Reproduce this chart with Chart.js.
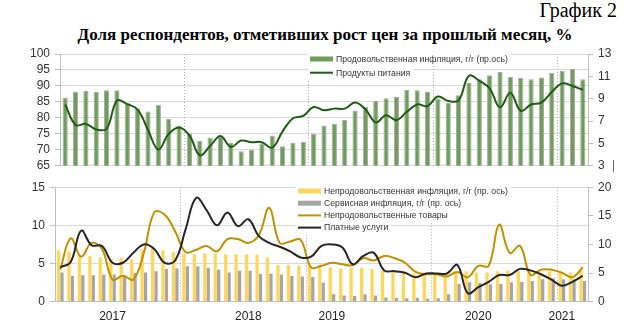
<!DOCTYPE html>
<html>
<head>
<meta charset="utf-8">
<script src="https://cdn.jsdelivr.net/npm/chart.js@4.4.0/dist/chart.umd.min.js"></script>
<style>
  body { margin: 0; width: 624px; height: 326px; overflow: hidden; position: relative; background: #fff; font-family: "Liberation Serif", "Times New Roman", serif; color: #000; }
  #chartNo { position: absolute; right: 7px; top: -1px; font-size: 20px; }
  #chartTitle { position: absolute; left: 0; width: 650px; top: 25px; text-align: center; font-size: 17px; font-weight: bold; }
  canvas { position: absolute; left: 0; }
  #topCanvas { top: 40px; }
  #bottomCanvas { top: 175px; }
</style>
</head>
<body>
<div id="chartNo">График 2</div>
<div id="chartTitle">Доля респондентов, отметивших рост цен за прошлый месяц, %</div>
<canvas id="topCanvas" width="624" height="138"></canvas>
<canvas id="bottomCanvas" width="624" height="151"></canvas>
<script>
// months, Jan 2017 - Mar 2021
const months = [
  '01.17', '02.17', '03.17', '04.17', '05.17', '06.17', '07.17', '08.17', '09.17', '10.17', '11.17', '12.17',
  '01.18', '02.18', '03.18', '04.18', '05.18', '06.18', '07.18', '08.18', '09.18', '10.18', '11.18', '12.18',
  '01.19', '02.19', '03.19', '04.19', '05.19', '06.19', '07.19', '08.19', '09.19', '10.19', '11.19', '12.19',
  '01.20', '02.20', '03.20', '04.20', '05.20', '06.20', '07.20', '08.20', '09.20', '10.20', '11.20', '12.20',
  '01.21', '02.21', '03.21'
];

// year captions under the lower panel
const yearTicks = { '06.17': '2017', '07.18': '2018', '03.19': '2019', '05.20': '2020', '01.21': '2021' };

// upper panel
const foodInflation = [
  9.1, 9.6, 9.7, 9.6, 9.75, 9.75, 8.6, 8.1, 7.85, 8.45, 7.2, 6.55,
  5.9, 5.25, 5.5, 5.6, 5.05, 4.3, 4.45, 5.0, 5.7, 4.75, 5.05, 5.15,
  5.85, 6.6, 6.75, 7.1, 7.95, 8.25, 8.8, 9.05, 9.15, 9.8, 9.75, 9.6,
  9.0, 8.65, 9.3, 10.4, 10.75, 11.1, 11.4, 10.95, 10.85, 10.75, 10.9, 11.3,
  11.5, 11.65, 10.75
];
const foodShare = [
  84.2, 77.8, 78.1, 76.4, 76.6, 85.4, 84.3, 82.6, 76.2, 70.1, 75.0, 77.0,
  74.5, 68.3, 71.2, 74.3, 70.9, 72.9, 72.4, 72.4, 70.7, 75.8, 79.9, 80.6,
  83.4, 82.4, 82.9, 82.9, 84.8, 82.7, 78.6, 80.8, 79.3, 81.9, 84.2, 83.7,
  86.7, 85.3, 85.5, 93.2, 91.6, 89.2, 83.3, 87.9, 82.2, 84.2, 84.8, 88.1,
  90.8, 90.0, 88.8
];

// lower panel
const nonFoodInflation = [
  9.0, 8.8, 8.1, 8.0, 7.7, 7.5, 7.7, 7.4, 9.1, 9.4, 9.0, 8.7,
  8.4, 8.3, 8.4, 8.4, 8.3, 8.3, 8.3, 8.2, 7.7, 6.4, 6.4, 6.3,
  6.4, 6.2, 6.0, 5.8, 5.9, 5.9, 5.7, 5.4, 5.3, 5.1, 4.9, 4.9,
  5.0, 5.0, 5.3, 5.3, 5.1, 5.1, 5.3, 5.4, 5.3, 5.3, 5.3, 5.3,
  5.1, 5.1, 5.5
];
const serviceInflation = [
  5.1, 4.5, 4.6, 4.6, 4.7, 4.75, 4.6, 5.0, 5.1, 5.3, 5.7, 5.8,
  6.2, 6.2, 5.95, 5.6, 5.1, 5.4, 5.4, 4.9, 4.9, 4.75, 4.5, 4.4,
  4.3, 3.3, 1.3, 1.1, 1.0, 1.3, 1.1, 0.75, 0.7, 0.6, 0.7, 0.5,
  0.6, 1.3, 3.1, 3.4, 3.3, 3.0, 3.1, 3.4, 3.5, 3.6, 3.9, 4.1,
  3.9, 3.9, 3.6
];
const nonFoodShare = [
  4.2, 8.3, 5.9, 7.7, 6.9, 2.9, 3.4, 2.9, 6.4, 11.7, 11.4, 9.2,
  6.5, 6.8, 7.3, 6.6, 8.2, 8.2, 7.7, 8.7, 12.3, 7.7, 7.9, 8.1,
  4.5, 4.7, 5.1, 4.9, 4.8, 5.7, 5.4, 6.0, 5.7, 5.1, 3.9, 3.6,
  3.6, 3.3, 3.9, 3.2, 4.7, 4.7, 10.1, 6.4, 7.3, 3.5, 4.2, 4.2,
  3.8, 3.2, 4.5
];
const servicesShare = [
  4.5, 5.2, 9.3, 7.4, 7.3, 5.1, 5.1, 6.4, 7.5, 6.9, 5.1, 5.4,
  9.5, 13.6, 12.0, 10.0, 11.7, 9.9, 10.8, 8.6, 7.7, 7.2, 6.6, 5.8,
  5.9, 7.3, 7.5, 7.1, 4.9, 6.0, 6.4, 4.1, 4.0, 3.8, 3.2, 3.7,
  3.7, 3.7, 4.8, 1.1, 1.9, 2.6, 3.5, 3.5, 4.3, 4.1, 3.6, 2.9,
  2.1, 2.6, 3.4
];

const tickFont = { family: '"Liberation Sans", Arial, sans-serif', size: 12 };
const legendFont = '8.7px "Liberation Sans", Arial, sans-serif';
const axisGray = '#bfbfbf';
const gridGray = '#d9d9d9';

// dotted line at each January, between December and January
const yearSeparators = {
  id: 'yearSeparators',
  beforeDatasetsDraw(chart) {
    const { ctx, chartArea, scales: { x } } = chart;
    const labels = chart.data.labels;
    ctx.save();
    ctx.strokeStyle = '#b0b0b0';
    ctx.lineWidth = 1;
    ctx.setLineDash([1, 2]);
    labels.forEach((lbl, i) => {
      if (i === 0 || !lbl.startsWith('01.')) return;
      const px = Math.round((x.getPixelForValue(i - 1) + x.getPixelForValue(i)) / 2) + 0.5;
      ctx.beginPath();
      ctx.moveTo(px, chartArea.top);
      ctx.lineTo(px, chartArea.bottom);
      ctx.stroke();
    });
    ctx.restore();
  }
};

// legend drawn inside the plot area, each entry on its own white patch
const innerLegend = {
  id: 'innerLegend',
  afterDatasetsDraw(chart, args, opts) {
    const { ctx } = chart;
    ctx.save();
    ctx.font = legendFont;
    ctx.textBaseline = 'middle';
    chart.data.datasets.forEach((ds, i) => {
      const y = opts.y + i * opts.step;
      const w = ctx.measureText(ds.label).width;
      ctx.fillStyle = '#fff';
      ctx.fillRect(opts.x - 2, y - opts.step / 2, w + 31, opts.step);
      if (ds.type === 'bar') {
        ctx.fillStyle = ds.backgroundColor;
        ctx.fillRect(opts.x, y - 2.5, 23, 5);
      } else {
        ctx.strokeStyle = ds.borderColor;
        ctx.lineWidth = 2;
        ctx.beginPath();
        ctx.moveTo(opts.x, y);
        ctx.lineTo(opts.x + 23, y);
        ctx.stroke();
      }
      ctx.fillStyle = '#333';
      ctx.fillText(ds.label, opts.x + 26, y + 0.5);
    });
    if (opts.mark) {
      ctx.strokeStyle = '#666';
      ctx.lineWidth = 1;
      ctx.beginPath();
      ctx.moveTo(opts.mark[0], opts.mark[1]);
      ctx.lineTo(opts.mark[0], opts.mark[2]);
      ctx.stroke();
    }
    ctx.restore();
  }
};

function fixWidth(w) {
  return (scale) => { scale.width = w; };
}

function yAxis(position, min, max, step, width, onChart) {
  return {
    position: position,
    min: min,
    max: max,
    afterFit: fixWidth(width),
    ticks: { stepSize: step, autoSkip: false, font: tickFont, color: '#333', padding: 5 },
    grid: { color: gridGray, drawOnChartArea: onChart, tickLength: 5, tickColor: axisGray },
    border: { color: axisGray }
  };
}

// Render upper panel: food
function renderTopChart() {
  const ctx = document.getElementById('topCanvas').getContext('2d');
  new Chart(ctx, {
    data: {
      labels: months,
      datasets: [
        {
          type: 'bar',
          label: 'Продовольственная инфляция, г/г (пр.ось)',
          data: foodInflation,
          yAxisID: 'yRight',
          backgroundColor: '#6e9e58',
          borderColor: '#a9a9a9',
          borderWidth: 1,
          barPercentage: 0.5,
          categoryPercentage: 1,
          order: 2
        },
        {
          type: 'line',
          label: 'Продукты питания',
          data: foodShare,
          yAxisID: 'yLeft',
          borderColor: '#1f5c14',
          borderWidth: 2,
          pointRadius: 0,
          tension: 0.4,
          order: 1
        }
      ]
    },
    options: {
      responsive: false,
      animation: false,
      devicePixelRatio: 1,
      layout: { padding: { top: 14, bottom: 10.7, left: 0, right: 0 } },
      plugins: {
        legend: { display: false },
        tooltip: { enabled: false },
        innerLegend: { x: 310, y: 19, step: 13.7, mark: [613.5, 120, 132] }
      },
      scales: {
        x: { display: false, offset: true },
        yLeft: yAxis('left', 65, 100, 5, 60, true),
        yRight: yAxis('right', 3, 13, 2, 36, false)
      }
    },
    plugins: [yearSeparators, innerLegend]
  });
}

// Render lower panel: non-food goods and services
function renderBottomChart() {
  const ctx = document.getElementById('bottomCanvas').getContext('2d');
  new Chart(ctx, {
    data: {
      labels: months,
      datasets: [
        {
          type: 'bar',
          label: 'Непродовольственная инфляция, г/г (пр. ось)',
          data: nonFoodInflation,
          yAxisID: 'yRight',
          backgroundColor: '#ffd65c',
          barPercentage: 0.95,
          categoryPercentage: 0.66,
          order: 3
        },
        {
          type: 'bar',
          label: 'Сервисная инфляция, г/г (пр. ось)',
          data: serviceInflation,
          yAxisID: 'yRight',
          backgroundColor: '#a6a6a6',
          barPercentage: 0.95,
          categoryPercentage: 0.66,
          order: 3
        },
        {
          type: 'line',
          label: 'Непродовольственные товары',
          data: nonFoodShare,
          yAxisID: 'yLeft',
          borderColor: '#bf9000',
          borderWidth: 2,
          pointRadius: 0,
          tension: 0.4,
          order: 2
        },
        {
          type: 'line',
          label: 'Платные услуги',
          data: servicesShare,
          yAxisID: 'yLeft',
          borderColor: '#262626',
          borderWidth: 2,
          pointRadius: 0,
          tension: 0.4,
          order: 1
        }
      ]
    },
    options: {
      responsive: false,
      animation: false,
      devicePixelRatio: 1,
      layout: { padding: { top: 10, bottom: 0, left: 0, right: 0 } },
      plugins: {
        legend: { display: false },
        tooltip: { enabled: false },
        innerLegend: { x: 298, y: 16, step: 12.2 }
      },
      scales: {
        x: {
          offset: true,
          afterFit: (scale) => { scale.height = 24.3; },
          grid: { display: false, drawTicks: false },
          border: { color: axisGray },
          ticks: {
            autoSkip: false,
            maxRotation: 0,
            padding: 8,
            font: tickFont,
            color: '#222',
            callback: function (value) {
              return yearTicks[this.getLabelForValue(value)] || '';
            }
          }
        },
        yLeft: yAxis('left', 0, 15, 5, 55, true),
        yRight: yAxis('right', 0, 20, 5, 36, false)
      }
    },
    plugins: [yearSeparators, innerLegend]
  });
}

renderTopChart();
renderBottomChart();
</script>
</body>
</html>
